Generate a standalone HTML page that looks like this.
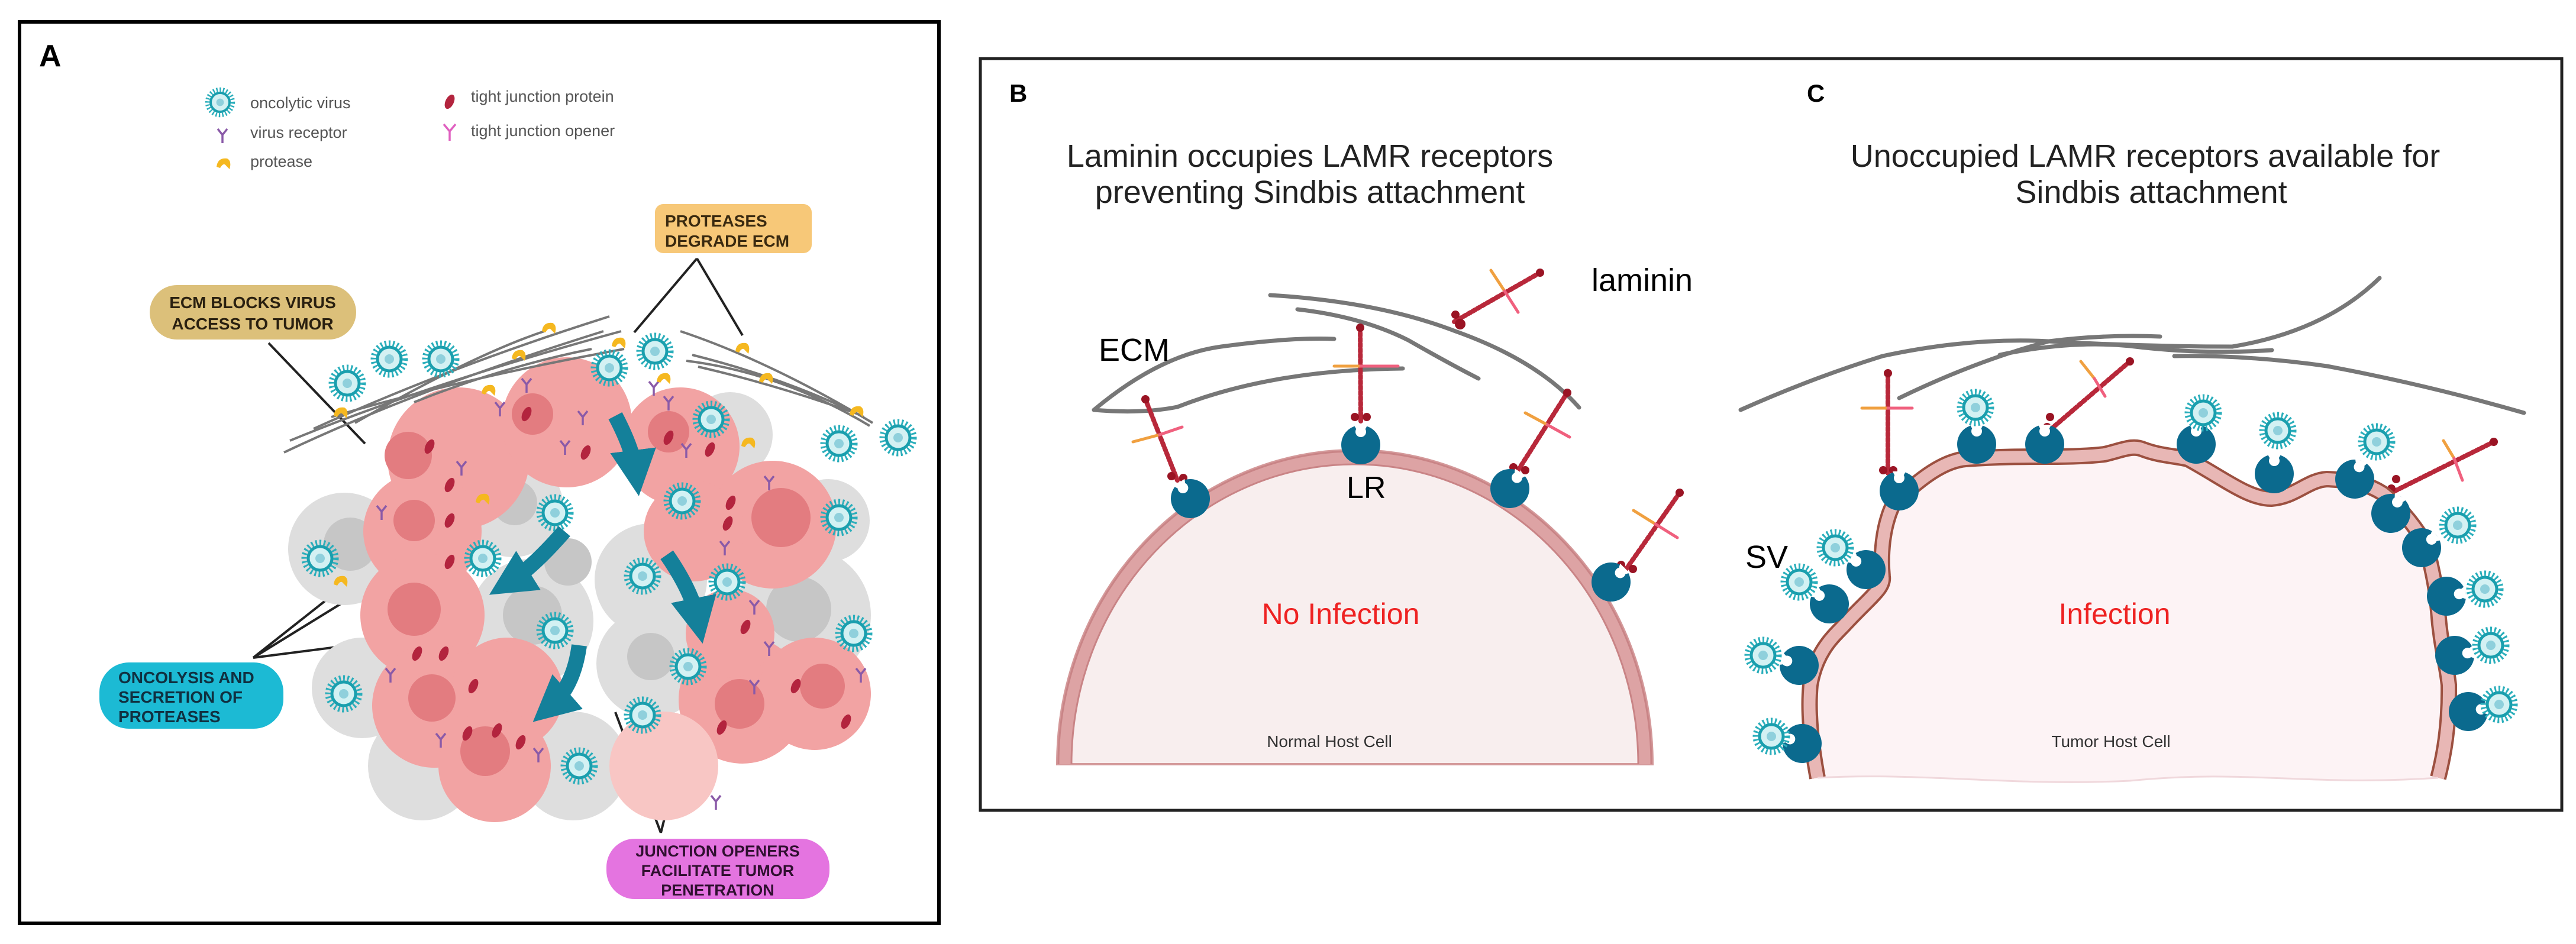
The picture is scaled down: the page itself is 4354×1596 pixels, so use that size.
<!DOCTYPE html>
<html><head><meta charset="utf-8"><style>
html,body{margin:0;padding:0;background:#fff}
svg{display:block}
text{font-family:"Liberation Sans",Arial,sans-serif}
</style></head><body>
<svg width="4354" height="1596" viewBox="0 0 4354 1596" xmlns="http://www.w3.org/2000/svg">
<defs>
<g id="vir">
 <circle r="27" fill="none" stroke="#2aaebb" stroke-width="9" stroke-dasharray="3 4"/>
 <circle r="20" fill="#d3f1f3" stroke="#1a9fae" stroke-width="5"/>
 <circle r="8" fill="#8fd0dc"/>
</g>
<g id="rec">
 <circle r="33" fill="#0b6a8e"/>
 <path d="M-11,-33 Q0,-8 11,-33 Z" fill="#fff"/>
 <circle cx="0" cy="-22" r="9" fill="#fff"/>
</g>
<g id="prot"><path d="M-12,4 Q-10,-12 6,-10 Q14,-6 10,8 L4,2 Q0,-4 -6,6 Z" fill="#f5b820"/></g>
<g id="rcpA"><path d="M0,14 L0,0 M0,0 L-8,-10 M0,0 L8,-10" stroke="#8a5aa8" stroke-width="3.5" fill="none"/></g>
<g id="tj"><ellipse rx="7" ry="13" fill="#b3243e" transform="rotate(25)"/></g>
<marker id="ah" viewBox="0 0 10 10" refX="5" refY="5" markerWidth="3" markerHeight="3" orient="auto"><path d="M0,0 L10,5 L0,10 Z" fill="#14809a"/></marker>
</defs>

<!-- ================= PANEL A ================= -->
<rect x="33" y="37" width="1554" height="1524" fill="#fff" stroke="#000" stroke-width="6"/>
<text x="66" y="112" font-size="52" font-weight="bold">A</text>
<!-- legend -->
<use href="#vir" x="372" y="173" transform="translate(372 173) scale(0.8) translate(-372 -173)"/>
<text x="423" y="183" font-size="27" fill="#555">oncolytic virus</text>
<use href="#rcpA" x="376" y="228"/>
<text x="423" y="233" font-size="27" fill="#555">virus receptor</text>
<use href="#prot" x="378" y="278"/>
<text x="423" y="282" font-size="27" fill="#555">protease</text>
<use href="#tj" x="760" y="172"/>
<text x="796" y="172" font-size="27" fill="#555">tight junction protein</text>
<path d="M760,238 L760,222 L750,210 M760,222 L770,210" stroke="#e060c0" stroke-width="3.5" fill="none"/>
<text x="796" y="230" font-size="27" fill="#555">tight junction opener</text>

<!-- connector lines -->
<g stroke="#222" stroke-width="4" fill="none">
<path d="M1178,437 L1072,562 M1178,437 L1255,567"/>
<path d="M454,580 L617,750"/>
<path d="M428,1112 L826,867 M428,1112 L576,995 M428,1112 L826,1061"/>
<path d="M1117,1408 L1040,1204 M1117,1408 L1168,1204"/>
</g>

<!-- cells -->
<g>
<g fill="#dedede">
<circle cx="582" cy="928" r="95"/><circle cx="867" cy="857" r="85"/><circle cx="898" cy="1050" r="105"/>
<circle cx="1100" cy="980" r="95"/><circle cx="1357" cy="1040" r="115"/><circle cx="1100" cy="1122" r="92"/>
<circle cx="714" cy="1295" r="92"/><circle cx="969" cy="1295" r="92"/><circle cx="1234" cy="735" r="72"/>
<circle cx="612" cy="1163" r="85"/><circle cx="1400" cy="880" r="70"/>
</g>
<g fill="#c6c6c6"><circle cx="592" cy="920" r="45"/><circle cx="870" cy="850" r="38"/><circle cx="900" cy="1040" r="50"/><circle cx="1350" cy="1030" r="55"/><circle cx="1100" cy="1110" r="40"/><circle cx="960" cy="950" r="40"/></g>
<g fill="#f2a3a3">
<circle cx="775" cy="775" r="120"/><circle cx="958" cy="714" r="110"/><circle cx="714" cy="898" r="100"/>
<circle cx="714" cy="1040" r="105"/><circle cx="734" cy="1193" r="105"/><circle cx="857" cy="1173" r="95"/>
<circle cx="836" cy="1295" r="95"/><circle cx="1150" cy="755" r="100"/><circle cx="1306" cy="887" r="108"/>
<circle cx="1173" cy="898" r="85"/><circle cx="1255" cy="1183" r="108"/><circle cx="1377" cy="1173" r="95"/>
<circle cx="1234" cy="1071" r="75"/>
</g>
<circle cx="1122" cy="1295" r="92" fill="#f8c6c4"/>
<g fill="#e37c80">
<circle cx="690" cy="770" r="40"/><circle cx="900" cy="700" r="35"/><circle cx="700" cy="1030" r="45"/>
<circle cx="730" cy="1180" r="40"/><circle cx="820" cy="1270" r="42"/><circle cx="1320" cy="875" r="50"/>
<circle cx="1250" cy="1190" r="42"/><circle cx="1390" cy="1160" r="38"/><circle cx="1130" cy="730" r="35"/><circle cx="700" cy="880" r="35"/>
</g>
</g>
<!-- tight junction proteins -->
<g>
<use href="#tj" x="726" y="755"/><use href="#tj" x="760" y="820"/><use href="#tj" x="890" y="700"/><use href="#tj" x="990" y="765"/>
<use href="#tj" x="760" y="880"/><use href="#tj" x="760" y="950"/><use href="#tj" x="705" y="1105"/><use href="#tj" x="750" y="1105"/>
<use href="#tj" x="800" y="1160"/><use href="#tj" x="790" y="1240"/><use href="#tj" x="840" y="1235"/><use href="#tj" x="880" y="1255"/>
<use href="#tj" x="1130" y="740"/><use href="#tj" x="1200" y="760"/><use href="#tj" x="1235" y="850"/><use href="#tj" x="1230" y="885"/>
<use href="#tj" x="1260" y="1060"/><use href="#tj" x="1345" y="1160"/><use href="#tj" x="1220" y="1230"/><use href="#tj" x="1430" y="1220"/>
</g>
<g>
<use href="#rcpA" x="890" y="650"/><use href="#rcpA" x="845" y="690"/><use href="#rcpA" x="985" y="705"/><use href="#rcpA" x="955" y="755"/>
<use href="#rcpA" x="1105" y="655"/><use href="#rcpA" x="1130" y="680"/><use href="#rcpA" x="1160" y="760"/><use href="#rcpA" x="645" y="865"/>
<use href="#rcpA" x="1300" y="815"/><use href="#rcpA" x="1225" y="925"/><use href="#rcpA" x="1275" y="1025"/><use href="#rcpA" x="1300" y="1095"/>
<use href="#rcpA" x="1455" y="1140"/><use href="#rcpA" x="660" y="1140"/><use href="#rcpA" x="745" y="1250"/><use href="#rcpA" x="910" y="1275"/>
<use href="#rcpA" x="1275" y="1160"/><use href="#rcpA" x="1210" y="1355"/><use href="#rcpA" x="780" y="790"/>
</g>
<!-- ECM fibers A -->
<g stroke="#777" stroke-width="4" fill="none">
<path d="M480,765 Q700,660 1020,560"/><path d="M490,745 Q720,650 1050,560"/><path d="M530,725 Q760,620 1030,535"/>
<path d="M560,705 Q780,640 1055,590"/><path d="M600,715 Q800,600 920,560"/><path d="M700,680 Q850,620 1000,590"/>
<path d="M1150,560 Q1300,610 1475,715"/><path d="M1160,610 Q1320,630 1470,720"/><path d="M1170,600 Q1330,640 1460,705"/>
<path d="M1180,620 Q1310,650 1450,700"/>
</g>
<!-- proteases -->
<g>
<use href="#prot" x="576" y="699"/><use href="#prot" x="928" y="556"/><use href="#prot" x="877" y="602"/><use href="#prot" x="826" y="661"/>
<use href="#prot" x="1046" y="581"/><use href="#prot" x="1122" y="641"/><use href="#prot" x="1255" y="590"/><use href="#prot" x="1295" y="641"/>
<use href="#prot" x="1448" y="697"/><use href="#prot" x="1265" y="750"/><use href="#prot" x="816" y="845"/><use href="#prot" x="576" y="984"/>
</g>
<!-- viruses -->
<g>
<use href="#vir" x="587" y="648"/><use href="#vir" x="658" y="607"/><use href="#vir" x="745" y="607"/><use href="#vir" x="1030" y="622"/>
<use href="#vir" x="1107" y="594"/><use href="#vir" x="1202" y="709"/><use href="#vir" x="1418" y="750"/><use href="#vir" x="1518" y="740"/>
<use href="#vir" x="938" y="867"/><use href="#vir" x="816" y="944"/><use href="#vir" x="1153" y="847"/><use href="#vir" x="541" y="944"/>
<use href="#vir" x="1086" y="974"/><use href="#vir" x="1229" y="984"/><use href="#vir" x="938" y="1066"/><use href="#vir" x="1418" y="875"/>
<use href="#vir" x="1443" y="1071"/><use href="#vir" x="1163" y="1127"/><use href="#vir" x="581" y="1173"/><use href="#vir" x="1086" y="1209"/>
<use href="#vir" x="979" y="1295"/>
</g>
<!-- arrows -->
<g stroke="#14809a" stroke-width="26" fill="none" marker-end="url(#ah)">
<path d="M1040,703 Q1070,760 1075,800"/>
<path d="M954,898 Q900,960 860,985"/>
<path d="M1127,938 Q1170,1000 1180,1050"/>
<path d="M979,1091 Q970,1160 930,1195"/>
</g>
<!-- label boxes -->
<rect x="1107" y="345" width="265" height="83" rx="14" fill="#f7c878"/>
<text x="1124" y="383" font-size="28" font-weight="bold" fill="#3a2a10">PROTEASES</text>
<text x="1124" y="417" font-size="28" font-weight="bold" fill="#3a2a10">DEGRADE ECM</text>
<rect x="253" y="482" width="349" height="92" rx="46" fill="#dcc07a"/>
<text x="427" y="521" font-size="28" font-weight="bold" fill="#2a2010" text-anchor="middle">ECM BLOCKS VIRUS</text>
<text x="427" y="557" font-size="28" font-weight="bold" fill="#2a2010" text-anchor="middle">ACCESS TO TUMOR</text>
<rect x="168" y="1120" width="311" height="112" rx="50" fill="#1cbad4"/>
<text x="200" y="1155" font-size="28" font-weight="bold" fill="#103040">ONCOLYSIS AND</text>
<text x="200" y="1188" font-size="28" font-weight="bold" fill="#103040">SECRETION OF</text>
<text x="200" y="1221" font-size="28" font-weight="bold" fill="#103040">PROTEASES</text>
<rect x="1025" y="1418" width="377" height="102" rx="48" fill="#e474e0"/>
<text x="1213" y="1448" font-size="27" font-weight="bold" fill="#301030" text-anchor="middle">JUNCTION OPENERS</text>
<text x="1213" y="1481" font-size="27" font-weight="bold" fill="#301030" text-anchor="middle">FACILITATE  TUMOR</text>
<text x="1213" y="1514" font-size="27" font-weight="bold" fill="#301030" text-anchor="middle">PENETRATION</text>

<!-- ================= PANEL B/C ================= -->
<rect x="1657" y="99" width="2673" height="1271" fill="#fff" stroke="#222" stroke-width="5"/>
<text x="1706" y="172" font-size="42" font-weight="bold">B</text>
<text x="3054" y="172" font-size="42" font-weight="bold">C</text>
<text x="2214" y="282" font-size="54" fill="#222" text-anchor="middle">Laminin occupies LAMR receptors</text>
<text x="2214" y="343" font-size="54" fill="#222" text-anchor="middle">preventing Sindbis attachment</text>
<text x="3626" y="282" font-size="54" fill="#222" text-anchor="middle">Unoccupied  LAMR receptors available for</text>
<text x="3636" y="343" font-size="54" fill="#222" text-anchor="middle">Sindbis attachment</text>

<!-- cell B -->
<path d="M1787,1292 A503,531 0 0 1 2793,1292 Z" fill="#f8eeee" stroke="#d4999a" stroke-width="4"/>
<path d="M1800,1292 A490,518 0 0 1 2780,1292" fill="none" stroke="#dda3a4" stroke-width="22"/>
<path d="M1789,1292 A501,529 0 0 1 2791,1292" fill="none" stroke="#c98486" stroke-width="3"/>
<path d="M1811,1292 A479,507 0 0 1 2769,1292" fill="none" stroke="#c98486" stroke-width="3"/>
<text x="2266" y="1055" font-size="50" fill="#ee2222" text-anchor="middle">No Infection</text>
<text x="2247" y="1263" font-size="28" fill="#333" text-anchor="middle">Normal Host Cell</text>

<!-- ECM B -->
<g stroke="#777" stroke-width="7" fill="none" stroke-linecap="round">
<path d="M1849,693 Q1960,600 2064,586 Q2180,570 2255,573"/>
<path d="M1849,693 Q1930,700 1990,688 Q2150,625 2371,623"/>
<path d="M2147,499 Q2330,510 2460,560 Q2600,610 2669,689"/>
<path d="M2193,523 Q2300,535 2380,575 Q2450,615 2499,640"/>
</g>

<!-- laminins B -->
<g stroke-linecap="round">
<g stroke="#b8283a" stroke-width="8" stroke-dasharray="5 4" fill="none">
<path d="M2300,712 L2299,554"/><path d="M1990,812 L1936,675"/><path d="M2566,795 L2649,664"/>
<path d="M2748,963 L2839,833"/><path d="M2458,544 L2603,461"/>
<path d="M3191,800 L3191,631"/><path d="M3466,726 L3600,611"/><path d="M4048,830 L4215,747"/>
</g>
<g stroke-width="5" fill="none">
<path d="M2255,619 L2300,619" stroke="#f0a040"/><path d="M2300,619 L2363,619" stroke="#f0607e"/>
<path d="M1915,747 L1960,735" stroke="#f0a040"/><path d="M1960,735 L1998,722" stroke="#f0607e"/>
<path d="M2578,698 L2615,718" stroke="#f0a040"/><path d="M2615,718 L2653,739" stroke="#f0607e"/>
<path d="M2761,863 L2798,886" stroke="#f0a040"/><path d="M2798,886 L2835,909" stroke="#f0607e"/>
<path d="M2520,457 L2543,492" stroke="#f0a040"/><path d="M2543,492 L2566,528" stroke="#f0607e"/>
<path d="M3147,690 L3191,690" stroke="#f0a040"/><path d="M3191,690 L3232,690" stroke="#f0607e"/>
<path d="M3517,611 L3540,640" stroke="#f0a040"/><path d="M3540,640 L3558,670" stroke="#f0607e"/>
<path d="M4130,745 L4148,775" stroke="#f0a040"/><path d="M4148,775 L4162,812" stroke="#f0607e"/>
</g>
<g fill="#9a1424">
<circle cx="2299" cy="554" r="7"/><circle cx="1936" cy="675" r="7"/><circle cx="2649" cy="664" r="7"/><circle cx="2839" cy="833" r="7"/><circle cx="2603" cy="461" r="7"/>
<circle cx="3191" cy="631" r="7"/><circle cx="3600" cy="611" r="7"/><circle cx="4215" cy="747" r="7"/>
<circle cx="2290" cy="705" r="7"/><circle cx="2310" cy="705" r="7"/><circle cx="1980" cy="805" r="7"/><circle cx="2000" cy="808" r="7"/>
<circle cx="2558" cy="790" r="7"/><circle cx="2578" cy="795" r="7"/><circle cx="2740" cy="955" r="7"/><circle cx="2760" cy="962" r="7"/>
<circle cx="2468" cy="548" r="9"/><circle cx="2460" cy="532" r="7"/><circle cx="3183" cy="795" r="7"/><circle cx="3200" cy="795" r="7"/>
<circle cx="3460" cy="722" r="7"/><circle cx="3465" cy="705" r="7"/><circle cx="4042" cy="826" r="7"/><circle cx="4050" cy="810" r="7"/>
</g>
</g>
<!-- receptors B -->
<use href="#rec" x="2300" y="752"/>
<use href="#rec" transform="translate(2012 843) rotate(-35)"/>
<use href="#rec" transform="translate(2552 826) rotate(33)"/>
<use href="#rec" transform="translate(2723 984) rotate(45)"/>
<text x="2276" y="842" font-size="52" fill="#000">LR</text>
<text x="1857" y="610" font-size="54" fill="#000">ECM</text>
<text x="2690" y="492" font-size="54" fill="#000">laminin</text>

<!-- cell C -->
<path d="M3072,1315 C3060,1250 3056,1200 3060,1158 C3070,1100 3100,1075 3116,1058 C3160,1010 3185,995 3182,975 C3178,930 3185,895 3191,876 C3200,845 3215,830 3229,826 C3270,790 3300,778 3322,776 C3380,772 3420,772 3463,772 C3510,772 3540,770 3557,768 C3590,760 3605,752 3623,760 C3650,770 3670,770 3698,776 C3760,810 3800,843 3839,843 C3880,840 3900,812 3933,810 C3980,812 4005,820 4027,834 C4060,860 4090,900 4102,926 C4115,980 4118,1000 4121,1033 C4125,1090 4135,1120 4139,1158 C4140,1230 4130,1280 4121,1315 C3900,1330 3800,1300 3600,1320 C3400,1330 3250,1305 3072,1315 Z" fill="#fdf3f5"/>
<path d="M3072,1315 C3060,1250 3056,1200 3060,1158 C3070,1100 3100,1075 3116,1058 C3160,1010 3185,995 3182,975 C3178,930 3185,895 3191,876 C3200,845 3215,830 3229,826 C3270,790 3300,778 3322,776 C3380,772 3420,772 3463,772 C3510,772 3540,770 3557,768 C3590,760 3605,752 3623,760 C3650,770 3670,770 3698,776 C3760,810 3800,843 3839,843 C3880,840 3900,812 3933,810 C3980,812 4005,820 4027,834 C4060,860 4090,900 4102,926 C4115,980 4118,1000 4121,1033 C4125,1090 4135,1120 4139,1158 C4140,1230 4130,1280 4121,1315" fill="none" stroke="#9c5040" stroke-width="28"/>
<path d="M3072,1315 C3060,1250 3056,1200 3060,1158 C3070,1100 3100,1075 3116,1058 C3160,1010 3185,995 3182,975 C3178,930 3185,895 3191,876 C3200,845 3215,830 3229,826 C3270,790 3300,778 3322,776 C3380,772 3420,772 3463,772 C3510,772 3540,770 3557,768 C3590,760 3605,752 3623,760 C3650,770 3670,770 3698,776 C3760,810 3800,843 3839,843 C3880,840 3900,812 3933,810 C3980,812 4005,820 4027,834 C4060,860 4090,900 4102,926 C4115,980 4118,1000 4121,1033 C4125,1090 4135,1120 4139,1158 C4140,1230 4130,1280 4121,1315" fill="none" stroke="#e8b7b5" stroke-width="20"/>
<path d="M4121,1315 C3900,1330 3800,1300 3600,1320 C3400,1330 3250,1305 3072,1315" fill="none" stroke="#f0d8dc" stroke-width="3"/>
<text x="3574" y="1055" font-size="50" fill="#ee2222" text-anchor="middle">Infection</text>
<text x="3568" y="1263" font-size="28" fill="#333" text-anchor="middle">Tumor Host Cell</text>

<!-- ECM C -->
<g stroke="#777" stroke-width="7" fill="none" stroke-linecap="round">
<path d="M2942,693 Q3060,640 3182,602 Q3330,570 3463,577 Q3620,586 3773,586 Q3930,560 4022,470"/>
<path d="M3210,673 Q3340,610 3463,577 Q3560,565 3651,569"/>
<path d="M3675,602 Q3800,600 3933,619 Q4100,650 4266,698"/>
<path d="M3380,600 Q3500,575 3600,585 Q3720,600 3840,592"/>
</g>

<!-- receptors C -->
<use href="#rec" x="3210" y="830"/>
<use href="#rec" x="3341" y="751"/>
<use href="#rec" x="3456" y="751"/>
<use href="#rec" x="3712" y="751"/>
<use href="#rec" x="3844" y="801"/>
<use href="#rec" transform="translate(3980 810) rotate(20)"/>
<use href="#rec" transform="translate(4041 868) rotate(30)"/>
<use href="#rec" transform="translate(4093 926) rotate(50)"/>
<use href="#rec" transform="translate(4135 1008) rotate(80)"/>
<use href="#rec" transform="translate(4149 1108) rotate(80)"/>
<use href="#rec" transform="translate(4172 1203) rotate(80)"/>
<use href="#rec" transform="translate(3154 963) rotate(-50)"/>
<use href="#rec" transform="translate(3092 1021) rotate(-50)"/>
<use href="#rec" transform="translate(3041 1125) rotate(-70)"/>
<use href="#rec" transform="translate(3046 1257) rotate(-70)"/>
<!-- viruses C -->
<g>
<use href="#vir" x="3339" y="689"/><use href="#vir" x="3724" y="698"/><use href="#vir" x="3850" y="728"/><use href="#vir" x="4017" y="747"/>
<use href="#vir" x="4154" y="888"/><use href="#vir" x="4200" y="996"/><use href="#vir" x="4210" y="1091"/><use href="#vir" x="4224" y="1191"/>
<use href="#vir" x="3102" y="926"/><use href="#vir" x="3041" y="984"/><use href="#vir" x="2980" y="1108"/><use href="#vir" x="2994" y="1245"/>
</g>
<text x="2950" y="960" font-size="54" fill="#000">SV</text>
</svg>
</body></html>
